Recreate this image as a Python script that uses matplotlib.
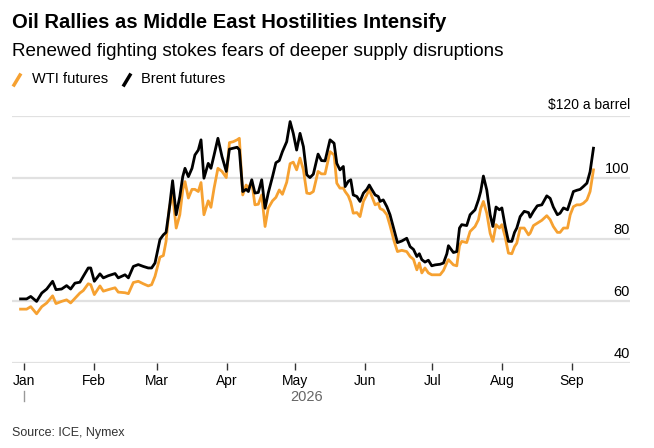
import numpy as np
import pandas as pd
import matplotlib
matplotlib.use("Agg")
import matplotlib.pyplot as plt
from matplotlib.lines import Line2D

plt.rcParams['font.family'] = ['Liberation Sans', 'DejaVu Sans']

# days after 1 Jan 2026
day_offsets = [
    -1.5, 1.2, 3.0, 5.6, 7.9, 10.1, 12.7, 14.2, 16.7, 18.9, 20.7, 22.6, 24.8, 26.3,
    28.5, 29.6, 31.2, 33.7, 35.2, 37.4, 40.4, 41.8, 44.8, 46.3, 48.5, 50.7, 52.9,
    55.1, 56.6, 58.1, 60.3, 61.8, 63.0, 64.4, 65.9, 67.5, 69.1, 70.4, 71.4, 72.9,
    74.5, 75.8, 77.3, 78.5, 79.8, 81.7, 82.9, 84.3, 86.0, 87.8, 89.7, 91.1, 92.8,
    94.5, 95.5, 97.0, 98.5, 99.5, 101.0, 102.4, 103.9, 105.4, 106.9, 108.3, 110.2,
    111.7, 113.2, 114.6, 116.5, 118.0, 119.4, 120.9, 122.4, 123.9, 125.4, 126.8,
    128.3, 130.4, 131.9, 133.5, 135.7, 137.5, 138.7, 140.1, 141.6, 142.4, 143.8,
    144.9, 146.0, 147.6, 149.0, 150.5, 152.0, 153.1, 154.2, 155.7, 157.1, 157.9,
    159.3, 160.9, 162.3, 164.1, 165.6, 167.5, 169.7, 171.2, 172.7, 174.2, 175.3,
    176.4, 177.8, 179.3, 180.8, 182.3, 184.5, 186.0, 187.5, 188.2, 190.4, 191.9,
    193.1, 194.1, 196.3, 197.8, 200.0, 201.5, 202.5, 203.7, 205.2, 206.7, 207.9,
    209.3, 210.8, 211.9, 213.3, 214.8, 216.3, 217.5, 218.5, 220.0, 221.8, 223.7,
    224.4, 225.9, 227.6, 229.6, 231.8, 233.3, 234.7, 236.5, 237.7, 239.2, 241.0,
    242.2, 243.6, 245.1, 246.6, 248.0, 249.6, 251.0, 252.5,
]

brent = [
    60.8, 60.8, 61.6, 60.0, 62.7, 64.0, 66.5, 63.8, 64.0, 65.1, 64.0, 65.9, 66.2, 68.1,
    70.8, 70.8, 66.5, 68.9, 67.6, 68.3, 69.0, 67.6, 68.6, 67.6, 71.3, 71.9, 71.3,
    70.8, 70.8, 72.4, 80.0, 81.5, 82.3, 89.6, 99.0, 88.0, 93.9, 100.3, 103.0, 100.3,
    103.0, 107.3, 108.9, 112.2, 99.8, 104.6, 103.0, 107.3, 112.7, 106.8, 102.0, 109.2, 109.5,
    109.8, 109.0, 95.5, 96.2, 95.5, 99.3, 95.0, 95.2, 99.3, 90.1, 95.0, 100.3,
    104.8, 105.5, 108.4, 111.6, 118.1, 114.3, 108.9, 114.3, 110.0, 100.9, 100.0,
    101.1, 107.6, 105.5, 105.4, 112.2, 111.1, 104.6, 102.5, 103.6, 97.1, 98.8,
    99.3, 94.4, 93.9, 92.3, 95.0, 96.2, 97.6, 96.2, 94.4, 93.9, 92.3,
    92.8, 90.6, 88.0, 83.1, 79.0, 79.5, 80.4, 77.7, 76.8, 74.5, 75.4,
    73.5, 72.7, 73.3, 71.5, 71.8, 72.0, 72.4, 75.4, 78.0, 75.8, 76.1,
    83.7, 84.8, 84.5, 88.0, 89.6, 92.8, 95.5, 100.5, 96.0, 88.0, 84.2,
    90.5, 89.6, 90.2, 84.5, 79.4, 79.4, 82.3, 83.7, 87.4, 89.1, 88.7,
    87.2, 89.1, 90.9, 91.2, 94.1, 93.3, 90.5, 88.0, 88.5, 90.2, 89.6,
    92.3, 95.5, 95.9, 96.2, 97.1, 98.2, 101.9, 109.5,
]

wti = [
    57.5, 57.5, 58.3, 56.0, 58.3, 59.5, 61.8, 59.3, 60.0, 60.5, 59.5, 61.0, 62.7, 63.5,
    65.7, 65.4, 62.2, 65.0, 63.3, 63.8, 64.4, 63.0, 62.8, 62.5, 66.1, 66.5, 65.7,
    65.0, 65.4, 68.1, 74.3, 74.8, 79.4, 90.1, 94.6, 83.7, 88.0, 96.0, 98.7, 93.4,
    96.2, 96.2, 95.5, 98.4, 88.0, 92.5, 90.4, 96.6, 103.0, 102.0, 100.0, 111.3, 111.6,
    112.2, 112.7, 94.4, 97.6, 96.6, 98.7, 91.2, 91.4, 94.4, 84.2, 90.1, 92.5,
    93.6, 96.0, 94.6, 98.5, 104.5, 105.0, 102.5, 106.3, 102.5, 95.0, 94.8,
    95.5, 102.0, 101.2, 101.2, 108.4, 107.3, 98.2, 96.6, 96.6, 95.5, 94.1,
    92.0, 88.5, 88.7, 87.4, 92.3, 94.4, 96.2, 94.0, 91.2, 91.7, 90.0,
    89.5, 88.0, 84.5, 79.5, 76.1, 76.5, 76.1, 74.5, 73.6, 70.2, 72.4,
    69.2, 70.8, 69.2, 68.6, 68.6, 68.6, 70.0, 72.5, 73.5, 71.8, 71.5,
    78.0, 79.4, 79.0, 82.6, 84.2, 86.4, 90.0, 92.3, 88.5, 82.0, 79.4,
    84.8, 83.7, 84.8, 81.0, 75.6, 75.4, 77.7, 78.8, 83.7, 83.7, 81.5,
    82.0, 84.5, 85.3, 86.2, 87.7, 86.4, 84.2, 82.3, 82.3, 83.7, 83.7,
    88.0, 90.6, 91.2, 91.2, 91.7, 92.8, 95.5, 102.5,
]

month_labels = ['Jan', 'Feb', 'Mar', 'Apr', 'May', 'Jun', 'Jul', 'Aug', 'Sep']
y_ticks = [40, 60, 80, 100, 120]

start = pd.Timestamp('2026-01-01')
dates = start + pd.to_timedelta(day_offsets, unit='D')

orange = '#F6A131'
grid_col = '#E1E1E1'

fig = plt.figure(figsize=(6.54, 4.48), dpi=100)
W, H = 654, 448
ax = fig.add_axes([12 / W, 1 - 363.3 / H, 618 / W, (363.3 - 115.7) / H])

ax.plot(dates, wti, color=orange, lw=2.0, solid_joinstyle='round', zorder=3)
ax.plot(dates, brent, color='black', lw=2.0, solid_joinstyle='round', zorder=4)

ax.set_xlim(start - pd.Timedelta(days=5.3), start + pd.Timedelta(days=268.7))
ax.set_ylim(40, 120)

for s in ax.spines.values():
    s.set_visible(False)

for v in y_ticks:
    ax.axhline(v, color=grid_col, lw=1.6, zorder=1)
    if v != 120:
        ax.annotate(str(v), xy=(1, v), xycoords=('axes fraction', 'data'),
                    xytext=(0, 1.5), textcoords='offset points',
                    ha='right', va='bottom', fontsize=10.5, color='black')
ax.annotate('$120 a barrel', xy=(1, 120), xycoords=('axes fraction', 'data'),
            xytext=(0, 3), textcoords='offset points',
            ha='right', va='bottom', fontsize=10, color='black')

ax.set_yticks([])
month_starts = pd.date_range('2026-01-01', periods=len(month_labels), freq='MS')
ax.set_xticks(month_starts)
ax.set_xticklabels(month_labels, fontsize=10)
ax.tick_params(axis='x', length=5, width=1, color='#333333', pad=3, direction='out')

# year label and marker under Jan
fig.text(307 / W, 1 - 397 / H, '2026', fontsize=10.5, color='#666666',
         ha='center', va='center')
fig.add_artist(Line2D([24 / W, 24 / W], [1 - 391 / H, 1 - 401 / H],
                      color='#999999', lw=1))

# titles
fig.text(12 / W, 1 - 22 / H, 'Oil Rallies as Middle East Hostilities Intensify',
         fontsize=14.6, fontweight='bold', va='center', ha='left')
fig.text(12 / W, 1 - 52 / H, 'Renewed fighting stokes fears of deeper supply disruptions',
         fontsize=13.6, va='center', ha='left')

# legend
fig.add_artist(Line2D([14 / W, 20 / W], [1 - 85 / H, 1 - 75 / H], color=orange, lw=2.5))
fig.text(32 / W, 1 - 79 / H, 'WTI futures', fontsize=10.5, va='center', ha='left')
fig.add_artist(Line2D([124 / W, 130 / W], [1 - 85 / H, 1 - 75 / H], color='black', lw=2.5))
fig.text(141 / W, 1 - 79 / H, 'Brent futures', fontsize=10.5, va='center', ha='left')

fig.text(12 / W, 1 - 433 / H, 'Source: ICE, Nymex', fontsize=9, color='#333333',
         va='center', ha='left')

fig.savefig('out.png', dpi=100)
